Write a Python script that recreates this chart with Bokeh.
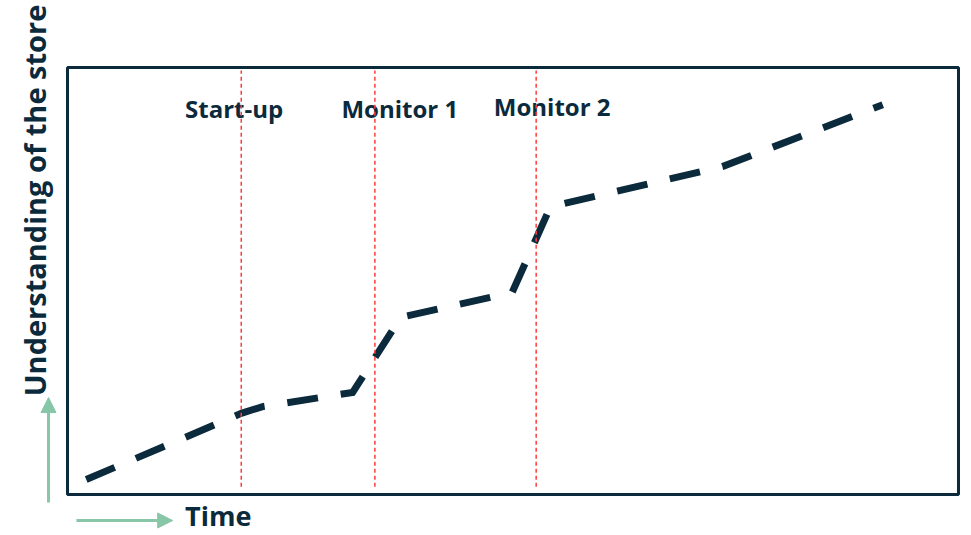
from math import pi

from bokeh.core.properties import value
from bokeh.embed import file_html
from bokeh.models import Arrow, NormalHead, Range1d
from bokeh.plotting import figure
from bokeh.resources import INLINE

# Learning curve: understanding of the store over time (0-100 scale on both axes)
time = [2.1, 19.5, 21.9, 32.0, 37.4, 49.9, 54.2, 73.5, 91.5]
understanding = [3.5, 19.0, 20.6, 23.9, 41.5, 47.3, 67.4, 76.8, 91.3]

# Milestones marked with vertical guides
milestone_names = ["Start-up", "Monitor 1", "Monitor 2"]
milestone_times = [19.5, 34.5, 52.6]
label_centres = [18.7, 37.3, 54.4]
label_heights = [90.4, 90.5, 90.9]

NAVY = "#0b2a3c"
GREEN = "#88c6a8"
RED = "#ff3d3d"
FONT = value("Open Sans")

p = figure(
    width=971,
    height=535,
    x_range=Range1d(-7.52, 101.46),
    y_range=Range1d(-9.60, 115.69),
    output_backend="svg",
    toolbar_location=None,
    x_axis_location=None,
    y_axis_location=None,
    min_border=0,
)
p.outline_line_color = None
p.grid.visible = False
p.background_fill_color = "white"
p.border_fill_color = "white"

# Frame around the plotting area
p.quad(left=[0], right=[100], bottom=[0], top=[100],
       fill_alpha=0, line_color=NAVY, line_width=3)

# The curve itself, heavy dashes
p.line(time, understanding, line_color=NAVY, line_width=7,
       line_dash="31 23", line_join="miter", line_cap="butt")

# Milestone captions
p.text(x=label_centres, y=label_heights, text=milestone_names,
       text_font=FONT, text_font_style="bold", text_font_size="24px",
       text_color=NAVY, text_align="center", text_baseline="alphabetic")

# Milestone guides drawn on top
p.segment(x0=milestone_times, y0=[1.8] * 3, x1=milestone_times, y1=[99.3] * 3,
          line_color=RED, line_width=1.5, line_dash="4 3")

# Axis titles
p.text(x=[-3.70], y=[68.85], text=["Understanding of the store"], angle=pi / 2,
       text_font=FONT, text_font_style="bold", text_font_size="29px",
       text_color=NAVY, text_align="center", text_baseline="alphabetic")
p.text(x=[13.2], y=[-4.9], text=["Time"],
       text_font=FONT, text_font_style="bold", text_font_size="27px",
       text_color=NAVY, text_align="left", text_baseline="alphabetic")

# Direction arrows
p.add_layout(Arrow(x_start=-2.13, y_start=-1.87, x_end=-2.13, y_end=22.7,
                   line_color=GREEN, line_width=3,
                   end=NormalHead(size=15, fill_color=GREEN, line_color=GREEN, line_width=1)))
p.add_layout(Arrow(x_start=1.0, y_start=-6.09, x_end=11.8, y_end=-6.09,
                   line_color=GREEN, line_width=3,
                   end=NormalHead(size=15, fill_color=GREEN, line_color=GREEN, line_width=1)))

open("out.html", "w").write(file_html(p, INLINE))
